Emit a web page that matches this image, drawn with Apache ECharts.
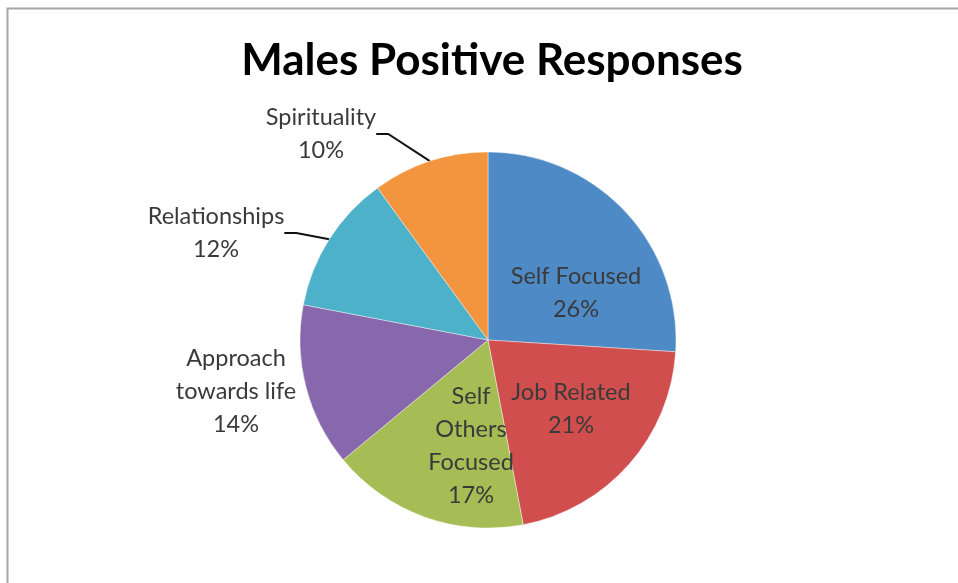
<!DOCTYPE html>
<html>
<head>
<meta charset="utf-8">
<script src="https://cdn.jsdelivr.net/npm/echarts@6/dist/echarts.min.js"></script>
<style>
  html, body { margin: 0; padding: 0; background: #ffffff; }
  #chart { width: 958px; height: 583px; }
</style>
</head>
<body>
<div id="chart"></div>
<script>
// Categories and their share of positive responses (percent)
const categories = ['Self Focused', 'Job Related', 'Self Others Focused', 'Approach towards life', 'Relationships', 'Spirituality'];
const values = [26, 21, 17, 14, 12, 10];
// Wrapped label text for each slice
const sliceLabels = ['Self Focused', 'Job Related', 'Self\nOthers\nFocused', 'Approach\ntowards life', 'Relationships', 'Spirituality'];
const colors = ['#4E8AC6', '#D04F4E', '#A6BC55', '#8868AC', '#4DB1CA', '#F3943F'];

// Label placement (centre of each label block) and whether it gets a leader line
const labelPos = [
  { x: 576, y: 293, line: false },
  { x: 571, y: 409, line: false },
  { x: 471, y: 446, line: false },
  { x: 236, y: 391, line: false },
  { x: 216, y: 233, line: true },
  { x: 321, y: 134, line: true }
];

const chart = echarts.init(document.getElementById('chart'), null, { renderer: 'canvas' });

const data = categories.map((name, i) => ({
  name: name,
  value: values[i],
  itemStyle: { color: colors[i] },
  labelLine: { show: labelPos[i].line }
}));

chart.setOption({
  animation: false,
  backgroundColor: '#ffffff',
  title: {
    text: 'Males Positive Responses',
    left: 487,
    top: 34,
    textAlign: 'center',
    textStyle: {
      fontFamily: 'Lato',
      fontWeight: 'bold',
      fontSize: 44,
      color: '#000000'
    }
  },
  graphic: [{
    type: 'polyline',
    shape: { points: [[7.5, 583], [7.5, 8.5], [958, 8.5]] },
    style: { stroke: '#a6a6a6', lineWidth: 2, fill: null },
    silent: true
  }],
  series: [{
    type: 'pie',
    center: [488, 340],
    radius: 188,
    startAngle: 90,
    clockwise: true,
    data: data,
    itemStyle: { borderColor: 'rgba(255,255,255,0.5)', borderWidth: 0.8 },
    label: {
      show: true,
      position: 'outside',
      formatter: (p) => sliceLabels[p.dataIndex] + '\n' + p.value + '%',
      fontFamily: 'Lato',
      fontSize: 23.5,
      lineHeight: 33,
      color: '#3a3a3a',
      align: 'center'
    },
    labelLine: {
      show: true,
      length: 12,
      length2: 12,
      lineStyle: { color: '#111111', width: 2 }
    },
    labelLayout: (params) => {
      const p = labelPos[params.dataIndex];
      return { x: p.x, y: p.y, align: 'center', verticalAlign: 'middle' };
    }
  }]
});
</script>
</body>
</html>
